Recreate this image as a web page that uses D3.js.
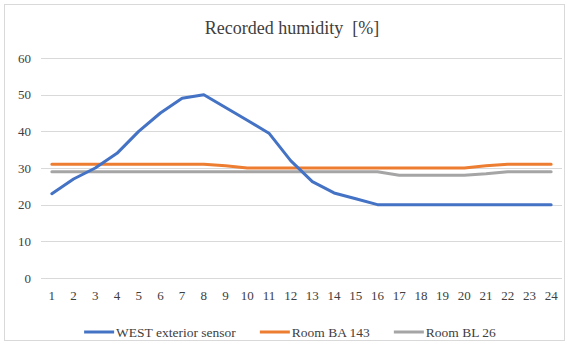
<!DOCTYPE html>
<html>
<head>
<meta charset="utf-8">
<script src="https://cdn.jsdelivr.net/npm/d3@7"></script>
<style>
  body { margin: 0; background: #fff; }
  svg text { font-family: "Times New Roman", "Liberation Serif", "DejaVu Serif", serif !important; }
</style>
</head>
<body>
<div id="chart"></div>
<script>
// hours of the day
const hours = d3.range(1, 25);

// humidity readings [%]
const westExterior = [23, 27, 30, 34, 40, 45, 49, 50, 46.5, 43, 39.5, 32, 26.3, 23.2, 21.6, 20, 20, 20, 20, 20, 20, 20, 20, 20];
const roomBA143 = [31, 31, 31, 31, 31, 31, 31, 31, 30.6, 30, 30, 30, 30, 30, 30, 30, 30, 30, 30, 30, 30.6, 31, 31, 31];
const roomBL26 = [29, 29, 29, 29, 29, 29, 29, 29, 29, 29, 29, 29, 29, 29, 29, 29, 28, 28, 28, 28, 28.4, 29, 29, 29];

const yTicks = [0, 10, 20, 30, 40, 50, 60];

const series = [
  { name: 'WEST exterior sensor', values: westExterior, color: '#4472C4' },
  { name: 'Room BA 143', values: roomBA143, color: '#ED7D31' },
  { name: 'Room BL 26', values: roomBL26, color: '#A5A5A5' }
];

const FONT = '"Times New Roman", "Liberation Serif", "DejaVu Serif", serif';
const width = 569, height = 345;
const plot = { left: 41, right: 562, top: 58, bottom: 278 };

const svg = d3.select('#chart').append('svg')
  .attr('width', width)
  .attr('height', height);

// chart frame
svg.append('rect')
  .attr('x', 4.5).attr('y', 4.5)
  .attr('width', 560).attr('height', 336)
  .attr('fill', '#fff')
  .attr('stroke', '#d9d9d9');

const x = d3.scaleBand()
  .domain(hours)
  .range([plot.left, plot.right]);

const y = d3.scaleLinear()
  .domain([0, 60])
  .range([plot.bottom, plot.top]);

// gridlines
svg.append('g')
  .selectAll('line')
  .data(yTicks)
  .join('line')
  .attr('x1', plot.left).attr('x2', plot.right)
  .attr('y1', d => Math.round(y(d)) + 0.5)
  .attr('y2', d => Math.round(y(d)) + 0.5)
  .attr('stroke', '#d9d9d9');

// y axis labels
const yAxis = svg.append('g')
  .attr('transform', `translate(${plot.left - 10},0)`)
  .call(d3.axisLeft(y).tickValues(yTicks).tickSize(0).tickPadding(0))
  .attr('font-family', FONT)
  .attr('font-size', 13);
yAxis.select('.domain').remove();
yAxis.selectAll('text').attr('fill', '#404040');

// x axis labels
const xAxis = svg.append('g')
  .attr('transform', `translate(0,${plot.bottom + 9})`)
  .call(d3.axisBottom(x).tickSize(0).tickPadding(4))
  .attr('font-family', FONT)
  .attr('font-size', 13);
xAxis.select('.domain').remove();
xAxis.selectAll('text').attr('fill', '#404040');

// series lines
const line = d3.line()
  .x((d, i) => x(hours[i]) + x.bandwidth() / 2)
  .y(d => y(d));

svg.append('g')
  .selectAll('path')
  .data(series.slice().reverse())
  .join('path')
  .attr('d', d => line(d.values))
  .attr('fill', 'none')
  .attr('stroke', d => d.color)
  .attr('stroke-width', 3)
  .attr('stroke-linejoin', 'round')
  .attr('stroke-linecap', 'round');

// title
svg.append('text')
  .attr('x', 292)
  .attr('y', 34)
  .attr('text-anchor', 'middle')
  .attr('font-family', FONT)
  .attr('font-size', 18)
  .attr('fill', '#404040')
  .style('white-space', 'pre')
  .text('Recorded humidity  [%]');

// legend, laid out from measured text widths and centred
const legend = svg.append('g')
  .attr('font-family', FONT)
  .attr('font-size', 13.5);

const items = legend.selectAll('g')
  .data(series)
  .join('g');

items.append('line')
  .attr('x1', 0).attr('x2', 30)
  .attr('y1', 0).attr('y2', 0)
  .attr('stroke', d => d.color)
  .attr('stroke-width', 3);

items.append('text')
  .attr('x', 32)
  .attr('y', 4.5)
  .attr('fill', '#404040')
  .text(d => d.name);

let offset = 0;
const starts = [];
items.each(function () {
  starts.push(offset);
  offset += 32 + this.querySelector('text').getComputedTextLength() + 24;
});
const total = offset - 24;
const legendLeft = 290 - total / 2;
items.attr('transform', (d, i) => `translate(${legendLeft + starts[i]},${332})`);
</script>
</body>
</html>
